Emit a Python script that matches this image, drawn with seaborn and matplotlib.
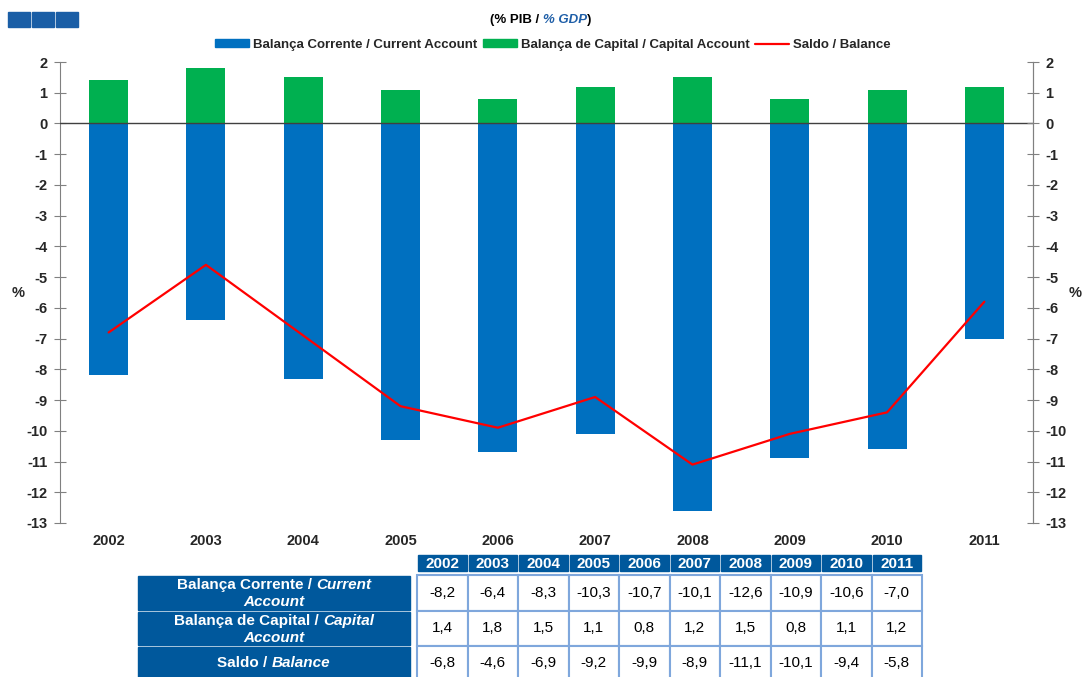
import matplotlib
matplotlib.use('Agg')
import matplotlib.pyplot as plt
from matplotlib.patches import Patch, Rectangle
from matplotlib.lines import Line2D
import seaborn as sns
import numpy as np

# data (% of GDP)
years = ['2002', '2003', '2004', '2005', '2006', '2007', '2008', '2009', '2010', '2011']
current_account = [-8.2, -6.4, -8.3, -10.3, -10.7, -10.1, -12.6, -10.9, -10.6, -7.0]
capital_account = [1.4, 1.8, 1.5, 1.1, 0.8, 1.2, 1.5, 0.8, 1.1, 1.2]
balance = [-6.8, -4.6, -6.9, -9.2, -9.9, -8.9, -11.1, -10.1, -9.4, -5.8]

row_labels = [('Balança Corrente / ', 'Current', 'Account'),
              ('Balança de Capital / ', 'Capital', 'Account'),
              ('Saldo / ', 'Balance', None)]

blue = '#0070C0'
green = '#00B050'
red = '#FF0000'
navy = '#00589C'
cellline = '#7FA7DC'

sns.set_style('white')
plt.rcParams['font.family'] = ['Liberation Sans', 'DejaVu Sans']
plt.rcParams['axes.unicode_minus'] = False

W, H = 1085, 677
fig = plt.figure(figsize=(W / 100, H / 100), dpi=100)

# main chart
ax = fig.add_axes([60 / W, (H - 523) / H, (1033 - 60) / W, (523 - 62) / H])
sns.barplot(x=years, y=capital_account, color=green, width=0.4, saturation=1,
            linewidth=0, ax=ax)
sns.barplot(x=years, y=current_account, color=blue, width=0.4, saturation=1,
            linewidth=0, ax=ax)
sns.lineplot(x=np.arange(len(years)), y=balance, color=red, linewidth=1.6, ax=ax)
ax.axhline(0, color='#404040', lw=1, zorder=3)

ax.set_xlim(-0.5, len(years) - 0.5)
ax.set_ylim(-13, 2)
ax.set_yticks(range(-13, 3))
ax.set_xlabel('')
ax.set_ylabel('')
for s in ['top', 'bottom']:
    ax.spines[s].set_visible(False)
for s in ['left', 'right']:
    ax.spines[s].set_color('#808080')
ax.tick_params(axis='x', length=0, pad=8, labelsize=10.5)
ax.tick_params(axis='y', direction='inout', length=8, color='#808080', pad=5, labelsize=10.5)
for lab in ax.get_xticklabels() + ax.get_yticklabels():
    lab.set_fontweight('bold')

ax2 = ax.twinx()
ax2.set_ylim(-13, 2)
ax2.set_yticks(range(-13, 3))
for s in ['top', 'bottom', 'left']:
    ax2.spines[s].set_visible(False)
ax2.spines['right'].set_color('#808080')
ax2.tick_params(axis='y', direction='inout', length=8, color='#808080', pad=5, labelsize=10.5)
for lab in ax2.get_yticklabels():
    lab.set_fontweight('bold')

# legend
handles = [Patch(color=blue), Patch(color=green), Line2D([], [], color=red, lw=1.6)]
labels = ['Balança Corrente / Current Account', 'Balança de Capital / Capital Account',
          'Saldo / Balance']
ax.legend(handles, labels, ncol=3, loc='center', bbox_to_anchor=(553 / W, 1 - 45 / H),
          bbox_transform=fig.transFigure, frameon=False, handlelength=2.6,
          handleheight=0.55, handletextpad=0.3, columnspacing=0.4,
          prop={'weight': 'bold', 'size': 9.5})

# overlay in pixel coordinates
ov = fig.add_axes([0, 0, 1, 1])
ov.set_xlim(0, W)
ov.set_ylim(H, 0)
ov.axis('off')
renderer = fig.canvas.get_renderer()


def rich_text(x, y, parts, size):
    texts = [ov.text(0, y, s, fontsize=size, fontweight='bold', fontstyle=st, color=c,
                     ha='left', va='center') for s, st, c in parts]
    widths = [t.get_window_extent(renderer).width for t in texts]
    start = x - sum(widths) / 2
    for t, w in zip(texts, widths):
        t.set_x(start)
        start += w


# small squares top left
for i in range(3):
    ov.add_patch(Rectangle((8 + i * 24, 12), 22, 15, color='#1A5EA6'))

rich_text(541, 20, [('(% PIB / ', 'normal', 'black'), ('% GDP', 'italic', '#1F5FA8'),
                    (')', 'normal', 'black')], 9.5)

ov.text(18, 293, '%', fontsize=10.5, fontweight='bold', ha='center', va='center')
ov.text(1075, 293, '%', fontsize=10.5, fontweight='bold', ha='center', va='center')

# table
x0, cw = 417, 50.5
for i, y in enumerate(years):
    ov.add_patch(Rectangle((x0 + i * cw + 1, 555), cw - 2, 16, color=navy))
    ov.text(x0 + (i + 0.5) * cw, 563.5, y, color='white', fontsize=11, fontweight='bold',
            ha='center', va='center')

rows_y = [575, 611, 646, 680]
series = [current_account, capital_account, balance]
for r, vals in enumerate(series):
    top, bot = rows_y[r], rows_y[r + 1]
    ov.add_patch(Rectangle((138, top + 1), 272, bot - top - 2, color=navy))
    first, ital, second = row_labels[r]
    mid = (top + bot) / 2
    if second:
        rich_text(274, mid - 8, [(first, 'normal', 'white'), (ital, 'italic', 'white')], 11)
        rich_text(274, mid + 9, [(second, 'italic', 'white')], 11)
    else:
        rich_text(274, mid, [(first, 'normal', 'white'), (ital, 'italic', 'white')], 11)
    for i, v in enumerate(vals):
        ov.add_patch(Rectangle((x0 + i * cw, top), cw, bot - top, facecolor='white',
                               edgecolor=cellline, lw=1.5))
        ov.text(x0 + (i + 0.5) * cw, mid, f'{v:.1f}'.replace('.', ','), fontsize=11,
                ha='center', va='center', color='black')

fig.savefig('out.png', dpi=100)
